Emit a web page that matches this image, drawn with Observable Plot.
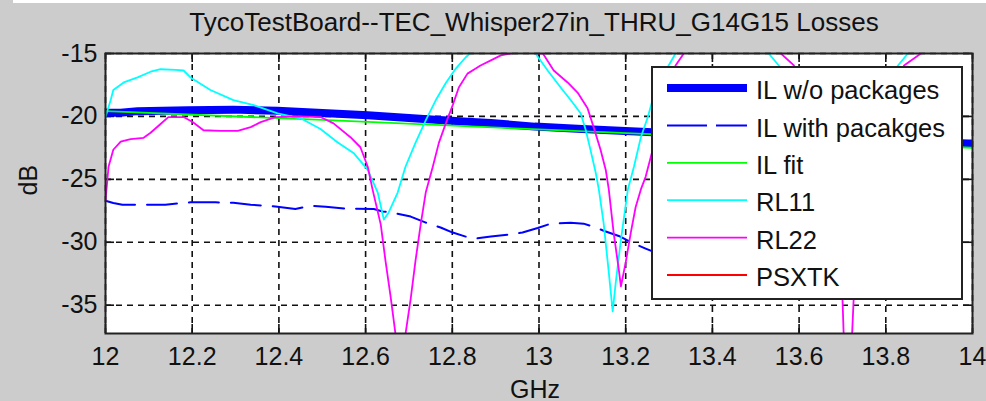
<!DOCTYPE html>
<html><head><meta charset="utf-8">
<script src="https://cdn.jsdelivr.net/npm/d3@7"></script>
<script src="https://cdn.jsdelivr.net/npm/@observablehq/plot@0.6"></script>
<style>
html,body{margin:0;padding:0;background:#cccccc;}
#wrap{position:relative;width:986px;height:401px;overflow:hidden;background:#cccccc;}
#strip{position:absolute;left:13px;top:0;width:973px;height:3px;background:#ffffff;}
</style></head>
<body><div id="wrap"><div id="chart"></div><div id="strip"></div></div>
<script>
const fontFamily = 'Arial, "Liberation Sans", Helvetica, sans-serif';
const titleText = "TycoTestBoard--TEC_Whisper27in_THRU_G14G15 Losses";
const xLabel = "GHz";
const yLabel = "dB";
const xTicks = [12, 12.2, 12.4, 12.6, 12.8, 13, 13.2, 13.4, 13.6, 13.8, 14];
const xTickLabels = ["12", "12.2", "12.4", "12.6", "12.8", "13", "13.2", "13.4", "13.6", "13.8", "14"];
const yTicks = [-15, -20, -25, -30, -35];
const yTickLabels = ["-15", "-20", "-25", "-30", "-35"];
const xDomain = [12, 14];
const yDomain = [-37.25, -15];

const seriesNames = ["IL w/o packages", "IL with pacakges", "IL fit", "RL11", "RL22", "PSXTK"];
const seriesColors = ["#0000ff", "#0000ff", "#00ff00", "#00ffff", "#ff00ff", "#ff0000"];

// IL w/o packages
const ilNoPkgFreq = [12.0, 12.035, 12.074, 12.19, 12.295, 12.397, 12.489, 12.605, 12.674, 12.743, 12.835, 12.889, 12.99, 13.10, 13.212, 13.262, 13.5, 13.75, 13.99, 14.0];
const ilNoPkgDb   = [-19.70, -19.70, -19.58, -19.50, -19.46, -19.55, -19.70, -19.90, -20.06, -20.22, -20.42, -20.53, -20.81, -21.00, -21.17, -21.25, -21.55, -21.85, -22.15, -22.15];

// IL with pacakges
const ilPkgFreq = [12.000, 12.018, 12.039, 12.076, 12.138, 12.173, 12.196, 12.254, 12.295, 12.335, 12.392, 12.438, 12.473, 12.508, 12.554, 12.619, 12.639, 12.662, 12.704, 12.739, 12.773, 12.801, 12.831, 12.854, 12.889, 12.93, 12.962, 12.997, 13.027, 13.073, 13.103, 13.131, 13.154, 13.184, 13.219, 13.246, 13.262, 13.4, 13.6, 13.8, 13.99, 14.0];
const ilPkgDb   = [-26.70, -26.88, -27.02, -27.02, -27.02, -26.88, -26.83, -26.83, -26.86, -27.02, -27.15, -27.36, -27.10, -27.17, -27.33, -27.36, -27.55, -27.65, -27.96, -28.44, -28.83, -29.23, -29.55, -29.70, -29.55, -29.39, -29.23, -28.87, -28.52, -28.44, -28.52, -28.83, -29.15, -29.50, -30.10, -30.50, -30.73, -31.0, -30.8, -30.4, -30.1, -30.1];

// IL fit
const ilFitFreq = [12.0, 12.5, 13.0, 13.5, 14.0];
const ilFitDb   = [-19.58, -20.28, -21.03, -21.76, -22.49];

// RL11
const rl11Freq = [12.000, 12.012, 12.018, 12.042, 12.074, 12.104, 12.127, 12.162, 12.180, 12.196, 12.242, 12.295, 12.342, 12.397, 12.450, 12.496, 12.535, 12.572, 12.605, 12.628, 12.642, 12.653, 12.674, 12.692, 12.715, 12.739, 12.762, 12.785, 12.808, 12.831, 12.854, 12.90, 12.94, 12.97, 12.992, 13.020, 13.050, 13.073, 13.096, 13.108, 13.119, 13.131, 13.138, 13.149, 13.161, 13.170, 13.177, 13.189, 13.205, 13.219, 13.235, 13.251, 13.262, 13.299, 13.315, 13.40, 13.48, 13.530, 13.553, 13.62, 13.69, 13.76, 13.828, 13.851, 13.92, 14.0];
const rl11Db   = [-20.05, -18.7, -17.9, -17.3, -16.9, -16.45, -16.25, -16.3, -16.35, -16.9, -17.9, -18.7, -19.1, -19.75, -20.15, -21.0, -22.05, -22.9, -24.25, -26.05, -28.2, -27.65, -26.05, -24.0, -22.1, -20.3, -18.7, -17.35, -16.2, -15.3, -14.6, -13.6, -13.4, -14.2, -15.0, -16.35, -17.7, -18.7, -19.75, -21.1, -22.7, -24.5, -25.8, -28.45, -32.4, -35.5, -33.2, -29.8, -25.8, -24.0, -21.65, -20.05, -18.7, -15.95, -15.0, -13.4, -13.8, -15.0, -15.95, -21.0, -27.0, -21.0, -15.95, -15.0, -13.8, -13.5];

// RL22
const rl22Freq = [12.000, 12.007, 12.018, 12.035, 12.058, 12.088, 12.104, 12.127, 12.145, 12.180, 12.201, 12.226, 12.265, 12.305, 12.335, 12.358, 12.392, 12.450, 12.496, 12.526, 12.565, 12.588, 12.605, 12.616, 12.635, 12.646, 12.658, 12.669, 12.678, 12.692, 12.704, 12.715, 12.727, 12.739, 12.755, 12.769, 12.785, 12.801, 12.815, 12.835, 12.854, 12.865, 12.889, 12.912, 12.95, 13.009, 13.034, 13.066, 13.089, 13.112, 13.126, 13.142, 13.154, 13.161, 13.172, 13.184, 13.189, 13.200, 13.212, 13.223, 13.235, 13.246, 13.258, 13.315, 13.334, 13.40, 13.50, 13.558, 13.588, 13.64, 13.68, 13.700, 13.703, 13.712, 13.722, 13.726, 13.77, 13.81, 13.842, 13.881, 13.94, 14.0];
const rl22Db   = [-26.7, -24.0, -22.65, -22.0, -21.8, -21.7, -21.3, -20.6, -20.05, -20.05, -20.45, -21.1, -21.15, -21.15, -20.85, -20.45, -20.05, -20.0, -20.05, -20.55, -21.65, -22.45, -24.0, -25.8, -28.6, -31.5, -34.4, -37.3, -39.5, -37.3, -34.5, -31.5, -28.6, -26.0, -24.0, -22.1, -20.55, -19.1, -17.7, -16.6, -16.2, -15.95, -15.55, -15.15, -14.9, -15.0, -16.35, -17.3, -18.1, -19.35, -20.85, -22.65, -24.25, -25.8, -29.2, -32.15, -33.5, -31.6, -29.2, -27.2, -25.8, -24.8, -23.2, -15.95, -15.0, -13.8, -14.0, -15.0, -15.95, -22.0, -29.0, -34.4, -37.5, -40.0, -37.5, -34.4, -26.0, -19.0, -15.95, -15.0, -14.0, -13.6];

// PSXTK (below the visible range)
const psxtkFreq = [12.0, 12.5, 13.0, 13.5, 14.0];
const psxtkDb   = [-47, -46, -45, -46, -44];

const toRows = (fs, vs) => fs.map((f, i) => ({f, v: vs[i]}));

const series = [
  {rows: toRows(ilNoPkgFreq, ilNoPkgDb), width: 8, dash: null, legendDash: null},
  {rows: toRows(ilPkgFreq, ilPkgDb), width: 2, dash: "30,12", legendDash: "40,9"},
  {rows: toRows(ilFitFreq, ilFitDb), width: 1.8, dash: null, legendDash: null},
  {rows: toRows(rl11Freq, rl11Db), width: 1.8, dash: null, legendDash: null},
  {rows: toRows(rl22Freq, rl22Db), width: 1.8, dash: null, legendDash: null},
  {rows: toRows(psxtkFreq, psxtkDb), width: 1.8, dash: null, legendDash: null}
];

const W = 986, H = 401;
const mT = 53, mB = 68, mL = 105, mR = 14;
const frameH = H - mT - mB, frameW = W - mL - mR;
const tickLen = 9;
const gridStyle = {stroke: "#111", strokeWidth: 1.6, strokeDasharray: "6,5"};
const tickStyle = {stroke: "#111", strokeWidth: 1.6};
const fs = 25;
const txt = {fontSize: fs, fill: "#111", lineAnchor: "middle"};

const lineMarks = series.map((s, i) => Plot.line(s.rows, {
  x: "f", y: "v", stroke: seriesColors[i], strokeWidth: s.width,
  strokeDasharray: s.dash, clip: true, curve: "linear"
}));

const plot = Plot.plot({
  width: W, height: H,
  marginTop: mT, marginBottom: mB, marginLeft: mL, marginRight: mR,
  x: {domain: xDomain, axis: null},
  y: {domain: yDomain, axis: null},
  style: {background: "transparent", fontFamily, fontSize: fs + "px", overflow: "visible"},
  marks: [
    Plot.frame({fill: "white", stroke: null}),
    Plot.ruleX(xTicks, {x: d => d, ...gridStyle}),
    Plot.ruleY(yTicks, {y: d => d, ...gridStyle}),
    Plot.tickX(xTicks, {x: d => d, insetTop: frameH - tickLen, ...tickStyle}),
    Plot.tickX(xTicks, {x: d => d, insetBottom: frameH - tickLen, ...tickStyle}),
    Plot.tickY(yTicks, {y: d => d, insetRight: frameW - tickLen, ...tickStyle}),
    Plot.tickY(yTicks, {y: d => d, insetLeft: frameW - tickLen, ...tickStyle}),
    ...lineMarks,
    Plot.frame({stroke: "#222", strokeWidth: 2}),
    Plot.text(xTicks, {x: d => d, frameAnchor: "bottom", dy: 23, text: (d, i) => xTickLabels[i], ...txt}),
    Plot.text(yTicks, {y: d => d, frameAnchor: "left", dx: -8, textAnchor: "end", text: (d, i) => yTickLabels[i], ...txt}),
    Plot.text([titleText], {frameAnchor: "top", dy: -31, dx: -5, ...txt, fontSize: 26}),
    Plot.text([xLabel], {frameAnchor: "bottom", dy: 56, dx: -4, ...txt}),
    Plot.text([yLabel], {frameAnchor: "left", dx: -77, dy: 2, rotate: -90, ...txt})
  ]
});

document.getElementById("chart").appendChild(plot);

// Legend box inside the axes (upper right)
const svg = d3.select(plot);
const lg = svg.append("g").attr("font-family", fontFamily).attr("font-size", 25.5).attr("text-anchor", "start");
const box = {x: 652, y: 67, w: 310, h: 232};
lg.append("rect").attr("x", box.x).attr("y", box.y).attr("width", box.w).attr("height", box.h)
  .attr("fill", "white").attr("stroke", "#222").attr("stroke-width", 2);
const rowY0 = 88, rowStep = 37.4;
seriesNames.forEach((name, i) => {
  const y = rowY0 + i * rowStep;
  lg.append("line").attr("x1", 667).attr("x2", 747).attr("y1", y).attr("y2", y)
    .attr("stroke", seriesColors[i]).attr("stroke-width", series[i].width)
    .attr("stroke-dasharray", series[i].legendDash);
  lg.append("text").attr("x", 756).attr("y", y + 2).attr("dy", "0.36em")
    .attr("text-anchor", "start").attr("fill", "#111").text(name);
});
</script>
</body></html>
